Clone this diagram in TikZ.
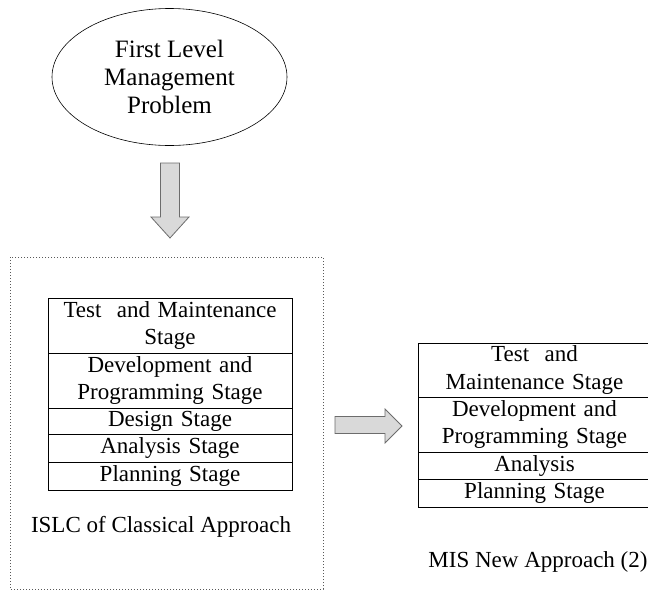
\documentclass[tikz,border=0pt]{standalone}
\usepackage{fontspec}
\setmainfont{Liberation Serif}
\usetikzlibrary{shapes.geometric}

\begin{document}
\begin{tikzpicture}[x=1pt, y=-1pt,
    txt/.style={font=\fontsize{23}{27.5}\selectfont, align=center},
    row/.style={txt, draw, line width=0.8pt, inner sep=0pt, outer sep=0pt},
    blockarrow/.style={draw=gray!85!black, fill=gray!30, line width=0.8pt, line join=miter}]
      \useasboundingbox (0,0) rectangle (648,592);

      \node[ellipse, draw, line width=0.6pt, minimum width=235pt, minimum height=137pt, inner sep=0pt, txt,
            font=\fontsize{25}{28}\selectfont] (prob) at (169.5,77) {First Level\\Management\\Problem};

      \draw[black!65, dotted, line width=1pt] (10,257) rectangle (323,589);
      \node[txt] (islc) at (161,527) {ISLC of Classical Approach};

      \node[row, text width=244pt, minimum height=55pt] (test) at (170,325.5) {Test~ and Maintenance\\Stage};
      \node[row, text width=244pt, minimum height=55pt] (dev) at (170,380.5) {Development and\\Programming Stage};
      \node[row, text width=244pt, minimum height=26pt] (design) at (170,421) {Design Stage};
      \node[row, text width=244pt, minimum height=28pt] (anal) at (170,448) {Analysis Stage};
      \node[row, text width=244pt, minimum height=28pt] (plan) at (170,476) {Planning Stage};

      \node[row, text width=233pt, minimum height=54pt] (mtest) at (534.5,370) {Test~ and\\Maintenance Stage};
      \node[row, text width=233pt, minimum height=55pt] (mdev) at (534.5,424.5) {Development and\\Programming Stage};
      \node[row, text width=233pt, minimum height=27pt] (manal) at (534.5,465.5) {Analysis};
      \node[row, text width=233pt, minimum height=28pt] (mplan) at (534.5,493) {Planning Stage};
      \node[txt] (mis) at (538,562) {MIS New Approach (2)};

      \draw[blockarrow] (160.5,163) -- (179.5,163) -- (179.5,217) -- (189,217) -- (170,238)
            -- (151,217) -- (160.5,217) -- cycle;
      \draw[blockarrow] (335,416.5) -- (385,416.5) -- (385,409) -- (402,426) -- (385,443)
            -- (385,433.5) -- (335,433.5) -- cycle;
\end{tikzpicture}
\end{document}
